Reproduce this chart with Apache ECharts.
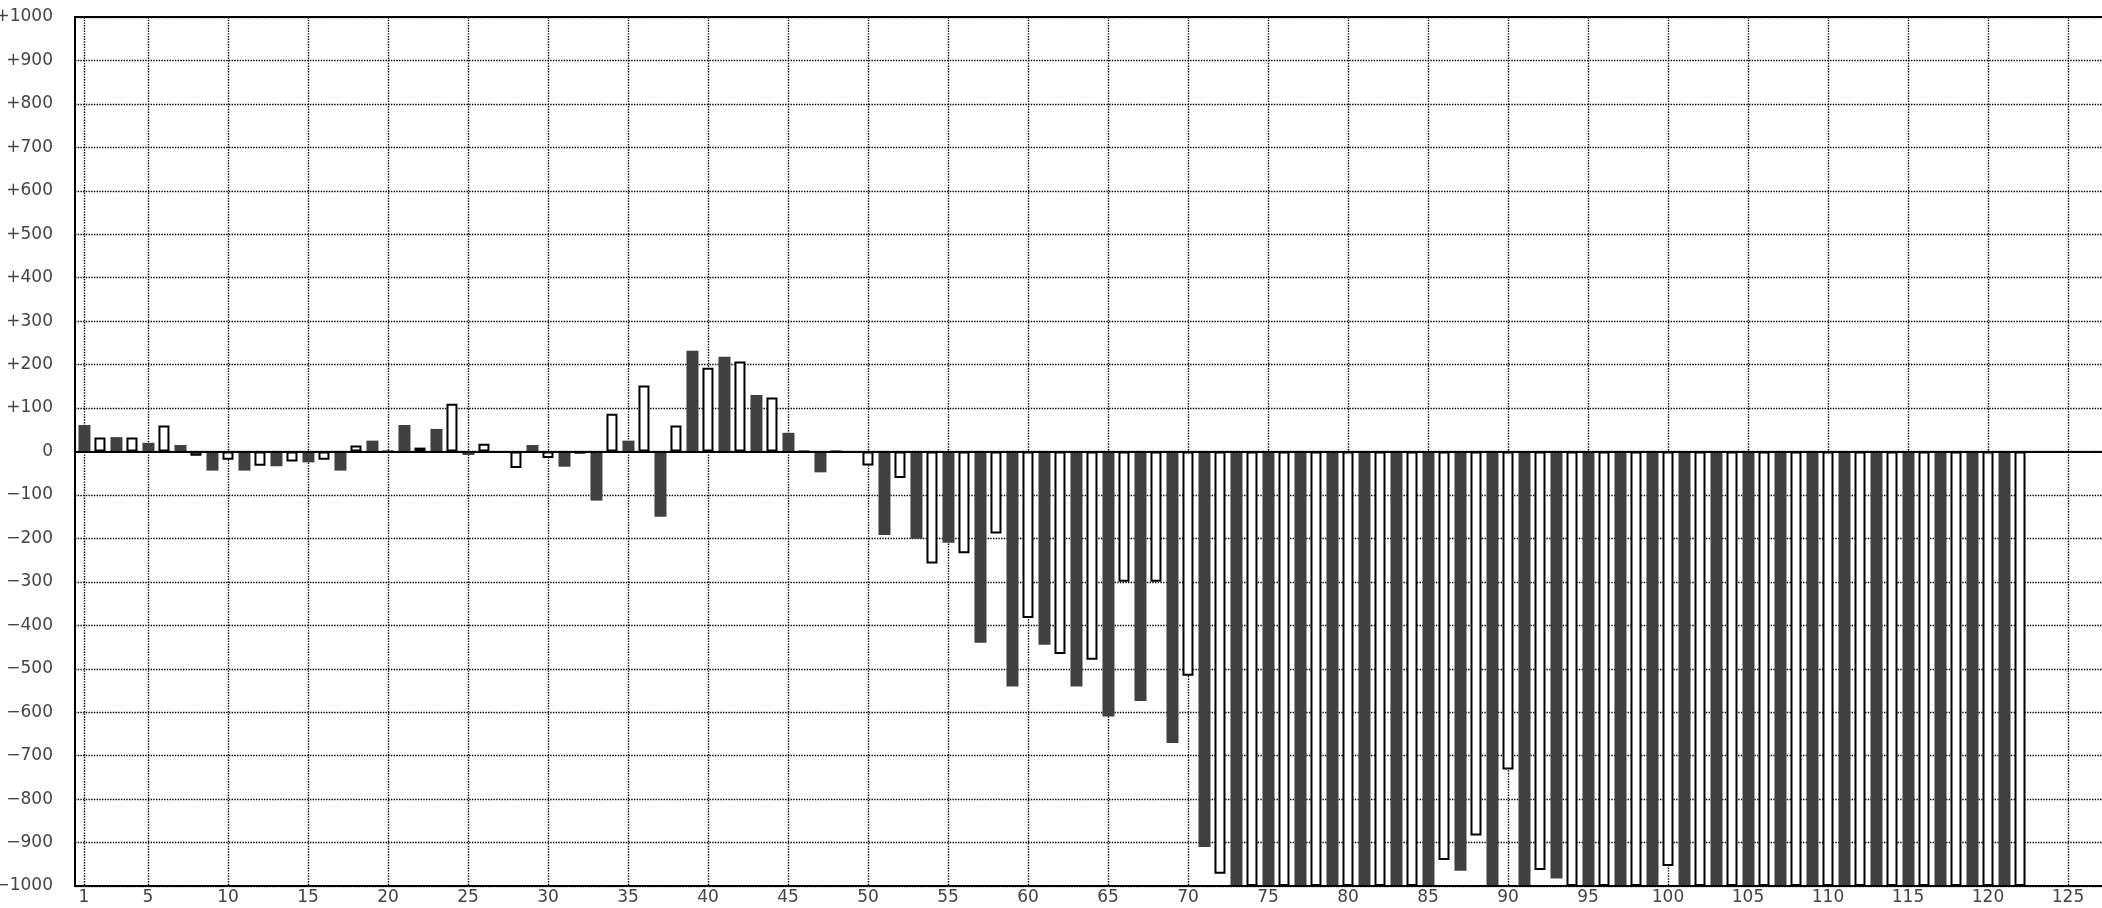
<!DOCTYPE html>
<html>
<head>
<meta charset="utf-8">
<script src="https://cdn.jsdelivr.net/npm/echarts@6/dist/echarts.min.js"></script>
<style>
html,body{margin:0;padding:0;background:#fff;}
#chart{width:2102px;height:908px;}
</style>
</head>
<body>
<div id="chart"></div>
<script>
// Move numbers (1..122) and evaluation values; odd moves = dark bars, even moves = white bars
const moves = [];
for (let i = 1; i <= 122; i++) moves.push(i);
const values = [
  61, 32, 33, 32, 20, 60, 15, -10, -44, -19,
  -44, -33, -34, -23, -25, -19, -44, 14, 25, 0,
  61, 9, 52, 110, -8, 18, 0, -38, 15, -15,
  -35, -5, -113, 87, 25, 152, -150, 60, 232, 193,
  218, 207, 130, 124, 43, 0, -48, 0, 0, -32,
  -192, -61, -201, -258, -210, -234, -440, -189, -541, -383,
  -445, -466, -541, -479, -610, -300, -574, -300, -671, -516,
  -910, -972, -1000, -1000, -1000, -1000, -1000, -1000, -1000, -1000,
  -1000, -1000, -1000, -1000, -1000, -940, -965, -884, -1000, -732,
  -1000, -963, -983, -1000, -1000, -1000, -1000, -1000, -1000, -954,
  -1000, -1000, -1000, -1000, -1000, -1000, -1000, -1000, -1000, -1000,
  -1000, -1000, -1000, -1000, -1000, -1000, -1000, -1000, -1000, -1000,
  -1000, -1000
];
const xTickValues = [1, 5, 10, 15, 20, 25, 30, 35, 40, 45, 50, 55, 60, 65, 70, 75, 80, 85, 90, 95, 100, 105, 110, 115, 120, 125, 130];
const yMin = -1000, yMax = 1000, yStep = 100;

const darkData = [], whiteData = [];
moves.forEach((m, i) => {
  if (m % 2 === 1) darkData.push([m, values[i]]);
  else whiteData.push([m, values[i]]);
});

const xMin = 0.44, xMax = 130;
const font = 'DejaVu Sans';
const gridDots = {color: '#000', width: 1.4, type: [1.4, 1.3]};
const chart = echarts.init(document.getElementById('chart'), null, {renderer: 'canvas'});
chart.setOption({
  animation: false,
  backgroundColor: '#fff',
  grid: {
    left: 75, top: 17, right: -46, bottom: 22,
    outerBoundsMode: 'none', containLabel: false,
    show: true, borderColor: '#000', borderWidth: 2, backgroundColor: 'transparent'
  },
  xAxis: [{
    type: 'value', min: xMin, max: xMax, position: 'bottom',
    axisLine: {show: false},
    axisTick: {show: false, customValues: xTickValues},
    axisLabel: {
      customValues: xTickValues, margin: 3, hideOverlap: false,
      fontFamily: font, fontSize: 17, color: '#444'
    },
    splitLine: {show: true, lineStyle: gridDots}
  }, {
    type: 'value', min: xMin, max: xMax, position: 'bottom', z: 10,
    axisLine: {show: true, onZero: false, lineStyle: {color: '#000', width: 2}},
    axisTick: {show: false}, axisLabel: {show: false}, splitLine: {show: false}
  }],
  yAxis: {
    type: 'value', min: yMin, max: yMax, interval: yStep,
    axisLine: {show: true, lineStyle: {color: '#000', width: 2}},
    axisTick: {show: false},
    axisLabel: {
      margin: 22, fontFamily: font, fontSize: 17, color: '#444', hideOverlap: false,
      formatter: v => v > 0 ? '+' + v : (v < 0 ? '\u2212' + (-v) : '0')
    },
    splitLine: {show: true, lineStyle: gridDots}
  },
  series: [{
    name: 'dark', type: 'bar', xAxisIndex: 0, data: darkData,
    barWidth: 12, barGap: '-100%',
    itemStyle: {color: '#404040'},
    clip: true,
    markLine: {
      silent: true, symbol: 'none', z: 8,
      label: {show: false},
      lineStyle: {color: '#000', width: 2, type: 'solid'},
      data: [{yAxis: 0}]
    }
  }, {
    name: 'white', type: 'bar', xAxisIndex: 0, data: whiteData,
    barWidth: 11, barGap: '-100%',
    itemStyle: {color: '#fff', borderColor: '#000', borderWidth: 2},
    clip: true
  }]
});
</script>
</body>
</html>
